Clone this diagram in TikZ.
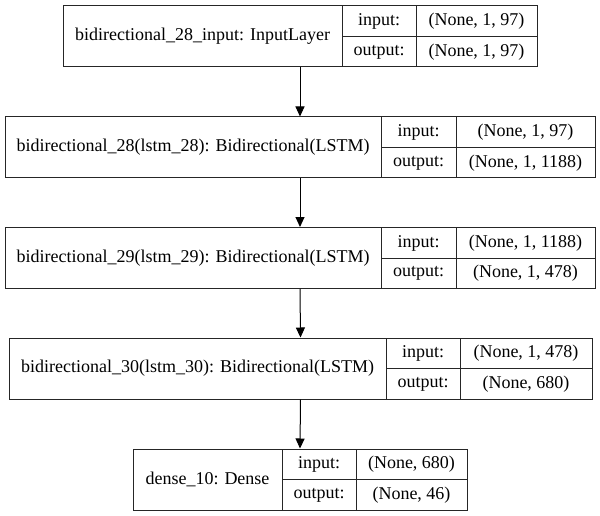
\documentclass[tikz,border=0pt]{standalone}
\usepackage{fontspec}
\setmainfont{Liberation Serif}
\usetikzlibrary{arrows.meta,fit}
\tikzset{
  rec/.style={draw=black!85, line width=1pt, inner sep=0pt},
  sep/.style={draw=black!85, line width=1pt},
  txt/.style={inner sep=0pt, font=\fontsize{18}{20}\selectfont},
  flow/.style={draw=black, line width=1pt, -{Triangle[length=10pt,width=9pt]}}
}
% #1 name, #2..#5 column edges, #6 top edge, #7 layer label, #8 input shape, #9 output shape
\newcommand{\kerasrec}[9]{%
  \node[rec, fit={(#2,#6) (#5,#6+61)}] (#1) {};
  \draw[sep] (#3,#6) -- (#3,#6+61);
  \draw[sep] (#4,#6) -- (#4,#6+61);
  \draw[sep] (#3,#6+30.5) -- (#5,#6+30.5);
  \node[txt] (#1-name) at ({(#2+#3)/2},#6+30.5) {#7};
  \node[txt] (#1-inl) at ({(#3+#4)/2},#6+15.5) {input:};
  \node[txt] (#1-outl) at ({(#3+#4)/2},#6+46) {output:};
  \node[txt] (#1-in) at ({(#4+#5)/2},#6+15.5) {#8};
  \node[txt] (#1-out) at ({(#4+#5)/2},#6+46) {#9};
}
\begin{document}
\begin{tikzpicture}[x=1pt,y=-1pt]
  \path[fill=white] (0,0) rectangle (600,516);
  \useasboundingbox (0,0) rectangle (600,516);
  \kerasrec{inp}{63}{342}{416}{537}{6}{bidirectional\_28\_input: InputLayer}{(None, 1, 97)}{(None, 1, 97)}
  \kerasrec{bi28}{5}{381}{456}{595}{117}{bidirectional\_28(lstm\_28): Bidirectional(LSTM)}{(None, 1, 97)}{(None, 1, 1188)}
  \kerasrec{bi29}{5}{381}{456}{595}{227.5}{bidirectional\_29(lstm\_29): Bidirectional(LSTM)}{(None, 1, 1188)}{(None, 1, 478)}
  \kerasrec{bi30}{9}{386}{460}{592}{338}{bidirectional\_30(lstm\_30): Bidirectional(LSTM)}{(None, 1, 478)}{(None, 680)}
  \kerasrec{dense}{133}{282}{356}{467}{449}{dense\_10: Dense}{(None, 680)}{(None, 46)}
  \draw[flow] (inp.south) -- (bi28.north);
  \draw[flow] (bi28.south) -- (bi29.north);
  \draw[flow] (bi29.south) -- (bi30.north);
  \draw[flow] (bi30.south) -- (dense.north);
\end{tikzpicture}
\end{document}
